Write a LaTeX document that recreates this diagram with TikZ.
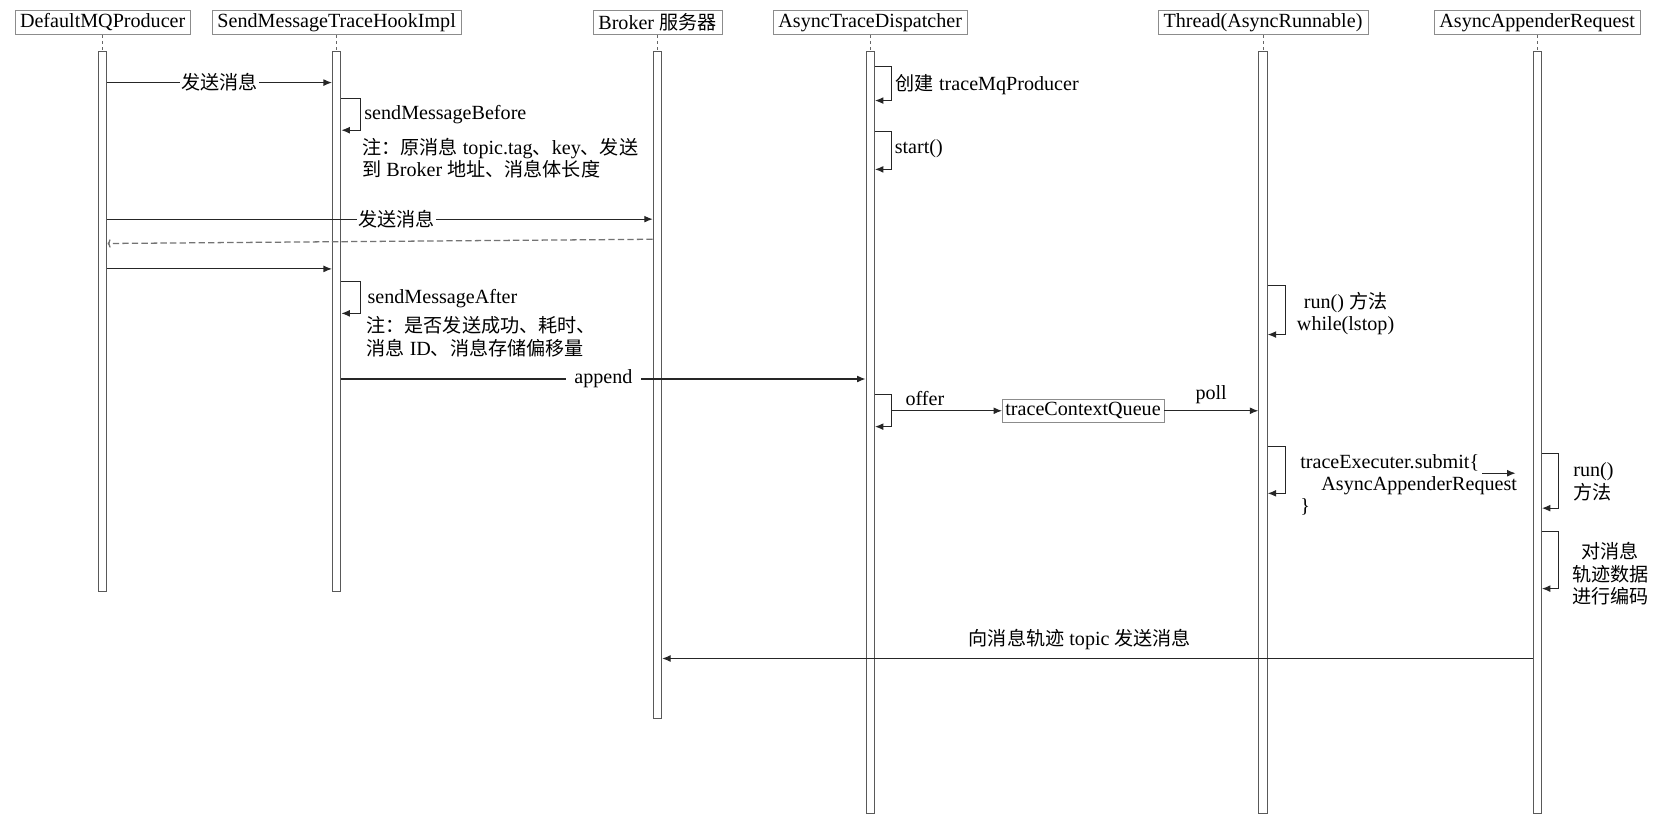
\documentclass[tikz,border=0pt]{standalone}
\usepackage{fontspec}
\setmainfont{Liberation Serif}
\newfontfamily\cjk{Noto Sans CJK SC}[Scale=0.95]
\usetikzlibrary{arrows, arrows.meta, positioning}
\newcommand{\zh}[1]{{\cjk #1}}

\begin{document}
\begin{tikzpicture}[
    x=1pt, y=-1pt,
    font=\fontsize{19}{21}\selectfont,
    actor/.style ={rectangle, draw=black!45, fill=white, inner xsep=5pt, inner ysep=0pt, minimum height=23pt},
    life/.style ={rectangle, draw=black!65, line width=0.9pt, fill=white, minimum width=8pt, anchor=north},
    line/.style ={draw, line width=1pt, black!85, -{Latex[length=8pt, width=6.5pt]}},
    ret/.style ={draw, line width=1.2pt, black!55, dash pattern=on 6pt off 3pt, -{To[length=3pt, width=8pt]}},
    tick/.style ={draw, line width=0.8pt, black!60, dashed},
    lbl/.style ={fill=white, inner sep=1pt, text=black},
    note/.style ={inner sep=0pt, align=left, text=black},
    queue/.style ={rectangle, draw=black!45, fill=white, inner xsep=3pt, inner ysep=1pt, minimum height=22pt},
]
\useasboundingbox (0,0) rectangle (1568,781);

% Nodes
\node [actor] (producer) at (97,21) {DefaultMQProducer};
\node [actor] (hook) at (318,21) {SendMessageTraceHookImpl};
\node [actor] (broker) at (621,21) {Broker \zh{服务器}};
\node [actor] (dispatcher) at (822,21) {AsyncTraceDispatcher};
\node [actor] (thread) at (1193,21) {Thread(AsyncRunnable)};
\node [actor] (appender) at (1452,21) {AsyncAppenderRequest};

\node [life, minimum height=510pt] (producerLife) at (97,48) {};
\node [life, minimum height=510pt] (hookLife) at (318,48) {};
\node [life, minimum height=630pt] (brokerLife) at (621,48) {};
\node [life, minimum height=720pt] (dispatcherLife) at (822,48) {};
\node [life, minimum height=720pt] (threadLife) at (1193,48) {};
\node [life, minimum height=720pt] (appenderLife) at (1452,48) {};

\foreach \who in {producer, hook, broker, dispatcher, thread, appender}
    \path [tick] (\who.south) -- (\who Life.north);

\node [queue] (queue) at (1023,388) {traceContextQueue};

% Lines
\path [line] (producerLife.east |- 0,78) -- node [lbl] {\zh{发送消息}} (hookLife.west |- 0,78);
\path [line] (hookLife.east |- 0,93) -- ++(18,0) |- (hookLife.east |- 0,123);
\node [note, anchor=west] (before) at (344,108) {sendMessageBefore};
\node [note, anchor=north west] (beforeNote) at (342,130) {\zh{注：原消息} topic.tag\zh{、}key\zh{、发送}\\\zh{到} Broker \zh{地址、消息体长度}};

\path [line] (producerLife.east |- 0,207) -- node [lbl, pos=0.53] {\zh{发送消息}} (brokerLife.west |- 0,207);
\path [ret] (brokerLife.west |- 0,226) -- (producerLife.east |- 0,230);
\path [line] (producerLife.east |- 0,254) -- (hookLife.west |- 0,254);

\path [line] (hookLife.east |- 0,266) -- ++(18,0) |- (hookLife.east |- 0,296);
\node [note, anchor=west] (after) at (347,282) {sendMessageAfter};
\node [note, anchor=north west] (afterNote) at (346,299) {\zh{注：是否发送成功、耗时、}\\\zh{消息} ID\zh{、消息存储偏移量}};

\path [line] (hookLife.east |- 0,358) -- node [lbl, inner xsep=8pt] {append} (dispatcherLife.west |- 0,358);

% dispatcher
\path [line] (dispatcherLife.east |- 0,63) -- ++(16,0) |- (dispatcherLife.east |- 0,95);
\node [note, anchor=west] (create) at (846,80) {\zh{创建} traceMqProducer};
\path [line] (dispatcherLife.east |- 0,124) -- ++(16,0) |- (dispatcherLife.east |- 0,160);
\node [note, anchor=west] (start) at (845,140) {start()};

\path [line] (dispatcherLife.east |- 0,373) -- ++(16,0) coordinate (offerEdge) |- (dispatcherLife.east |- 0,403);
\path [line] (offerEdge |- queue.west) -- node [above=1pt, pos=0.3, text=black] {offer} (queue.west);
\path [line] (queue.east) -- node [above=3pt, text=black] {poll} (threadLife.west |- queue.east);

% thread
\path [line] (threadLife.east |- 0,270) -- ++(17,0) |- (threadLife.east |- 0,316);
\node [note, align=center] (run) at (1271,296) {run() \zh{方法}\\while(lstop)};
\path [line] (threadLife.east |- 0,422) -- ++(17,0) |- (threadLife.east |- 0,466);
\node [note, anchor=north west] (submit) at (1228,429) {traceExecuter.submit\{\\\hspace*{20pt}AsyncAppenderRequest\\\}};
\coordinate (handoff) at (1400,447);
\path [line, shorten >=16pt] (handoff) -- (appenderLife.west |- handoff);

% appender
\path [line] (appenderLife.east |- 0,428) -- ++(16,0) |- (appenderLife.east |- 0,480);
\node [note, anchor=west] (apprun) at (1486,455) {run()\\\zh{方法}};
\path [line] (appenderLife.east |- 0,502) -- ++(16,0) |- (appenderLife.east |- 0,556);
\node [note, align=center] (encode) at (1521,542) {\zh{对消息}\\\zh{轨迹数据}\\\zh{进行编码}};

\path [line] (appenderLife.west |- 0,622) -- node [above=4pt, pos=0.52, text=black] {\zh{向消息轨迹} topic \zh{发送消息}} (brokerLife.east |- 0,622);

\end{tikzpicture}
\end{document}
